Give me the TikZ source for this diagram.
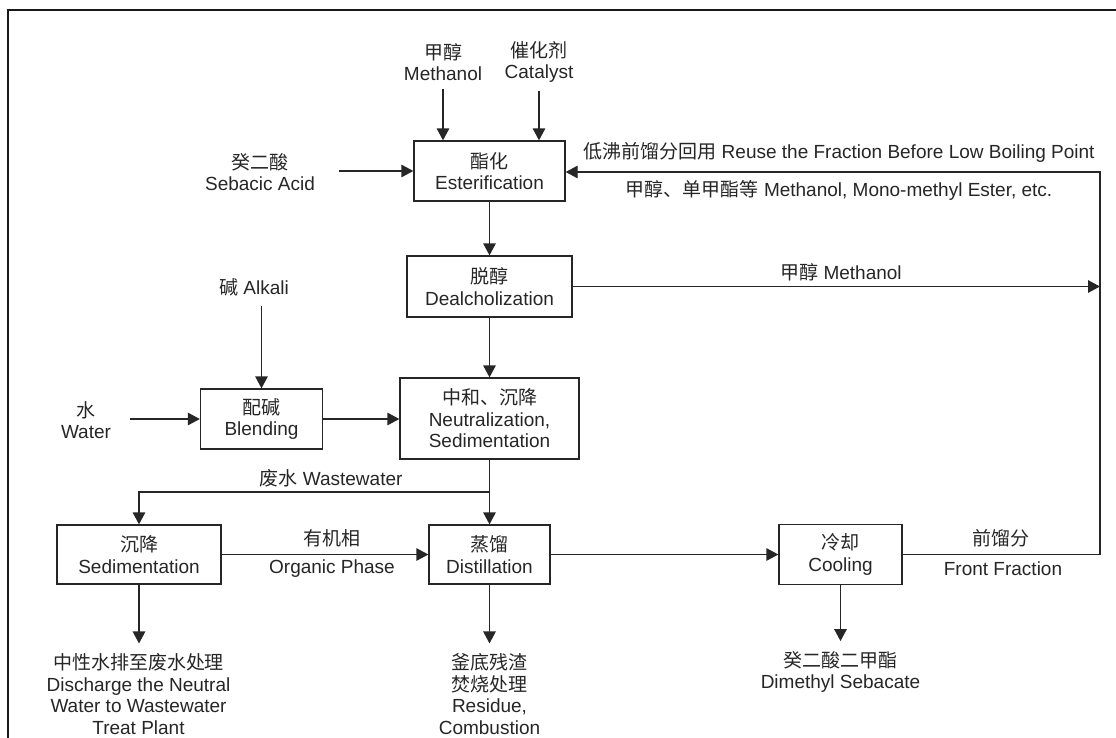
\documentclass[tikz,border=0pt]{standalone}
\usepackage{fontspec}
\setmainfont{Liberation Sans}
\newfontfamily\cjk{Noto Sans CJK SC}
\newcommand\zh[1]{{\cjk #1}}
\usetikzlibrary{arrows.meta}
\begin{document}
\begin{tikzpicture}[x=1pt,y=-1pt,
  txt/.style={font=\fontsize{19}{21.5}\selectfont, text=black!85, align=center, inner sep=0pt},
  box/.style={txt, draw=black!85, line width=1.3pt},
  arr/.style={draw=black!85, line width=1.3pt, -{Triangle[length=12pt,width=12.5pt]}},
  frame/.style={draw=black!90, line width=2.5pt}]
\useasboundingbox (0,0) rectangle (1116,737);
\fill[white] (0,0) rectangle (1116,737);
\draw[frame] (8,760) -- (8,10) -- (1140,10);

% process boxes
\node[box, minimum width=151pt, minimum height=60pt] (est) at (489.5,171) {\zh{酯化}\\Esterification};
\node[box, minimum width=165pt, minimum height=61pt] (dea) at (489.5,286.5) {\zh{脱醇}\\Dealcholization};
\node[box, minimum width=179pt, minimum height=81pt] (neu) at (489.5,418.5) {\zh{中和、沉降}\\Neutralization,\\Sedimentation};
\node[box, minimum width=122pt, minimum height=60pt] (ble) at (261.5,419) {\zh{配碱}\\Blending};
\node[box, minimum width=164pt, minimum height=59pt] (sed) at (139,554.5) {\zh{沉降}\\Sedimentation};
\node[box, minimum width=121pt, minimum height=59pt] (dis) at (489.5,554.5) {\zh{蒸馏}\\Distillation};
\node[box, minimum width=123pt, minimum height=60pt] (coo) at (840.5,554.5) {\zh{冷却}\\Cooling};

% input / output texts
\node[txt] (meth) at (443,62) {\zh{甲醇}\\Methanol};
\node[txt] (cat) at (539,62) {\zh{催化剂}\\Catalyst};
\node[txt] (seb) at (260,172) {\zh{癸二酸}\\Sebacic Acid};
\node[txt] (alk) at (254,287) {\zh{碱} Alkali};
\node[txt] (wat) at (86,420) {\zh{水}\\Water};
\node[txt] (out1) at (138.5,694) {\zh{中性水排至废水处理}\\Discharge the Neutral\\Water to Wastewater\\Treat Plant};
\node[txt] (out2) at (489.5,694) {\zh{釜底残渣}\\\zh{焚烧处理}\\Residue,\\Combustion};
\node[txt] (out3) at (840.5,672) {\zh{癸二酸二甲酯}\\Dimethyl Sebacate};

% connector labels
\node[txt] (lreuse) at (839,152) {\zh{低沸前馏分回用} Reuse the Fraction Before Low Boiling Point};
\node[txt] (lmest) at (839,190) {\zh{甲醇、单甲酯等} Methanol, Mono-methyl Ester, etc.};
\node[txt] (lmeth) at (841,272) {\zh{甲醇} Methanol};
\node[txt] (lwaste) at (331,478) {\zh{废水} Wastewater};
\node[txt] (lorg1) at (332,538) {\zh{有机相}};
\node[txt] (lorg2) at (332,569) {Organic Phase};
\node[txt] (lfr1) at (1001,538) {\zh{前馏分}};
\node[txt] (lfr2) at (1003,569) {Front Fraction};

% helper coordinates
\coordinate (rt) at (1100,172);
\coordinate (rb) at (1100,555);
\coordinate (j) at (489.5,492);

% connectors
\draw[arr, shorten <=8pt] (meth.south) -- (meth.south |- est.north);
\draw[arr, shorten <=8pt] (cat.south) -- (cat.south |- est.north);
\draw[arr, shorten <=24pt] (seb.east |- est.west) -- (est.west);
\draw[arr] (est) -- (dea);
\draw[arr] (dea.east) -- (dea.east -| rt);
\draw[arr] (coo.east) -- (coo.east -| rb) -- (rt) -- (rt -| est.east);
\draw[arr] (dea) -- (neu);
\draw[arr, shorten <=10pt] (alk.south -| ble.north) -- (ble.north);
\draw[arr, shorten <=19pt] (wat.east |- ble.west) -- (ble.west);
\draw[arr] (ble.east) -- (ble.east -| neu.west);
\draw[arr] (neu) -- (dis);
\draw[arr] (j) -| (sed);
\draw[arr] (sed.east) -- (dis.west);
\draw[arr] (dis.east) -- (coo.west);
\draw[arr, shorten >=10pt] (sed.south) -- (sed.south |- out1.north);
\draw[arr, shorten >=10pt] (dis.south) -- (dis.south |- out2.north);
\draw[arr, shorten >=10pt] (coo.south) -- (coo.south |- out3.north);
\end{tikzpicture}
\end{document}
